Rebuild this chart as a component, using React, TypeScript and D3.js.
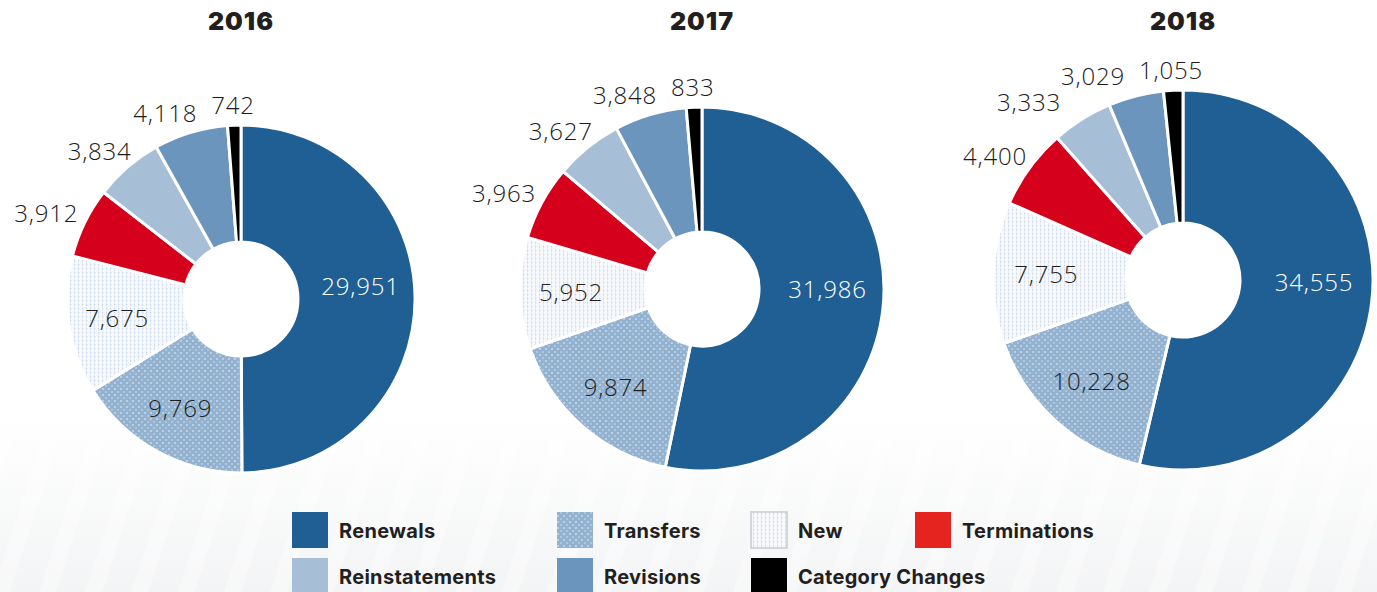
import React from "react";
import * as d3 from "d3";

const years = ["2016", "2017", "2018"];
const categories = ["Renewals", "Transfers", "New", "Terminations", "Reinstatements", "Revisions", "Category Changes"];
const values2016 = [29951, 9769, 7675, 3912, 3834, 4118, 742];
const values2017 = [31986, 9874, 5952, 3963, 3627, 3848, 833];
const values2018 = [34555, 10228, 7755, 4400, 3333, 3029, 1055];
const seriesValues = [values2016, values2017, values2018];

const W = 1377;
const H = 592;
const pieLayout = [
  { cx: 241, cy: 299, r: 174 },
  { cx: 702, cy: 289, r: 182 },
  { cx: 1183, cy: 280, r: 190 },
];
const innerR = 57;

const fills: Record<string, string> = {
  Renewals: "#1f5f94",
  Transfers: "url(#pTransfers)",
  New: "url(#pNew)",
  Terminations: "#d5001c",
  Reinstatements: "#a7bed7",
  Revisions: "#6b95bc",
  "Category Changes": "#000000",
};
const legendFills: Record<string, string> = { ...fills, Terminations: "#e5231f" };

const legendCols = [292, 557, 751, 915];
const legendRows = [512, 558];
const legendOrder = [
  ["Renewals", 0, 0], ["Transfers", 1, 0], ["New", 2, 0], ["Terminations", 3, 0],
  ["Reinstatements", 0, 1], ["Revisions", 1, 1], ["Category Changes", 2, 1],
] as const;

const labelFont = "300 24px 'Open Sans'";
const fmt = d3.format(",");

let measureCtx: CanvasRenderingContext2D | null = null;
function measure(t: string) {
  if (!measureCtx) {
    const c = document.createElement("canvas");
    measureCtx = c.getContext("2d");
  }
  if (!measureCtx) return t.length * 13;
  measureCtx.font = labelFont;
  return measureCtx.measureText(t).width + t.length * 0.8;
}

function Pie({ idx }: { idx: number }) {
  const { cx, cy, r } = pieLayout[idx];
  const vals = seriesValues[idx];
  const data = categories.map((c, i) => ({ c, v: vals[i] }));
  const total = d3.sum(vals);
  const arcs = d3.pie<{ c: string; v: number }>().sort(null).value((d) => d.v)(data);
  const arcGen = d3.arc<d3.PieArcDatum<{ c: string; v: number }>>().innerRadius(innerR).outerRadius(r);

  const inside: { x: number; y: number; t: string; fill: string }[] = [];
  const outside: { x: number; y: number; w: number; t: string }[] = [];
  const g = 11;
  const h = 18;
  arcs.forEach((a) => {
    const theta = (a.startAngle + a.endAngle) / 2;
    const s = Math.sin(theta), co = Math.cos(theta);
    const t = fmt(a.data.v);
    if (a.data.v / total > 0.08) {
      const isRen = a.data.c === "Renewals";
      const th = isRen ? theta - 0.1 : theta;
      const rr = isRen ? 0.69 * r : 0.72 * r;
      inside.push({
        x: cx + rr * Math.sin(th),
        y: cy - rr * Math.cos(th),
        t,
        fill: isRen ? "#ffffff" : "#231f20",
      });
    } else {
      const w = measure(t);
      outside.push({
        x: cx + (r + g) * s + (w / 2) * s,
        y: cy - (r + g) * co - (h / 2) * co,
        w,
        t,
      });
    }
  });
  for (let i = outside.length - 2; i >= 0; i--) {
    const a = outside[i], b = outside[i + 1];
    const dy = Math.abs(a.y - b.y);
    const gap = dy < 20 ? 14 : dy < 32 ? 0 : null;
    if (gap !== null) {
      const maxRight = b.x - b.w / 2 - gap;
      if (a.x + a.w / 2 > maxRight) a.x = maxRight - a.w / 2;
    }
  }

  return (
    <g>
      <text x={cx} y={30} textAnchor="middle" fontFamily="Inter, 'DejaVu Sans'" fontWeight={900} fontSize={25} fill="#231f20" letterSpacing={1}>
        {years[idx]}
      </text>
      <g transform={`translate(${cx},${cy})`}>
        {arcs.map((a) => (
          <path key={a.data.c} d={arcGen(a) || ""} fill={fills[a.data.c]} stroke="#ffffff" strokeWidth={3} strokeLinejoin="round" />
        ))}
      </g>
      {inside.map((l) => (
        <text key={l.t} x={l.x} y={l.y} dy="0.36em" textAnchor="middle" fontFamily="'Open Sans'" fontWeight={300} fontSize={24} fill={l.fill} letterSpacing={0.8}>
          {l.t}
        </text>
      ))}
      {outside.map((l) => (
        <text key={l.t} x={l.x} y={l.y} dy="0.36em" textAnchor="middle" fontFamily="'Open Sans'" fontWeight={300} fontSize={24} fill="#1c1a1b" letterSpacing={0.8}>
          {l.t}
        </text>
      ))}
    </g>
  );
}

export default function App() {
  return (
    <svg width={W} height={H} style={{ position: "absolute", left: 0, top: 0, display: "block" }}>
      <defs>
        <linearGradient id="bgGrad" x1="0" y1="0" x2="0" y2="1">
          <stop offset="0" stopColor="#ffffff" />
          <stop offset="0.7" stopColor="#ffffff" />
          <stop offset="1" stopColor="#f3f4f5" />
        </linearGradient>
        <pattern id="stripes" width="44" height="44" patternUnits="userSpaceOnUse" patternTransform="rotate(18)">
          <rect width="16" height="44" fill="#ffffff" opacity="0.35" />
        </pattern>
        <pattern id="pTransfers" width="6" height="6" patternUnits="userSpaceOnUse">
          <rect width="6" height="6" fill="#93b2d0" />
          <circle cx="0" cy="0" r="1.1" fill="#c5d7ea" />
          <circle cx="6" cy="0" r="1.1" fill="#c5d7ea" />
          <circle cx="0" cy="6" r="1.1" fill="#c5d7ea" />
          <circle cx="6" cy="6" r="1.1" fill="#c5d7ea" />
          <circle cx="3" cy="3" r="1.1" fill="#b4cae1" />
        </pattern>
        <pattern id="pNew" width="4" height="4" patternUnits="userSpaceOnUse">
          <rect width="4" height="4" fill="#f6f8fb" />
          <rect x="1" y="0" width="1" height="4" fill="#e6edf5" />
          <rect x="1" y="1" width="1.2" height="1.2" fill="#c8d8ea" />
        </pattern>
      </defs>
      <rect width={W} height={H} fill="url(#bgGrad)" />
      <rect y={380} width={W} height={H - 380} fill="url(#stripes)" />
      {years.map((y, i) => (
        <Pie key={y} idx={i} />
      ))}
      <g>
        {legendOrder.map(([name, col, row]) => {
          const x = legendCols[col];
          const y = legendRows[row];
          return (
            <g key={name}>
              <rect
                x={x}
                y={y}
                width={36}
                height={36}
                fill={legendFills[name]}
                stroke={name === "New" ? "#c6cbd1" : "none"}
                strokeWidth={name === "New" ? 1.5 : 0}
              />
              <text x={x + 47} y={y + 26} fontFamily="Inter, 'DejaVu Sans'" fontWeight={700} fontSize={20} fill="#231f20" letterSpacing={0.3}>
                {name}
              </text>
            </g>
          );
        })}
      </g>
    </svg>
  );
}
